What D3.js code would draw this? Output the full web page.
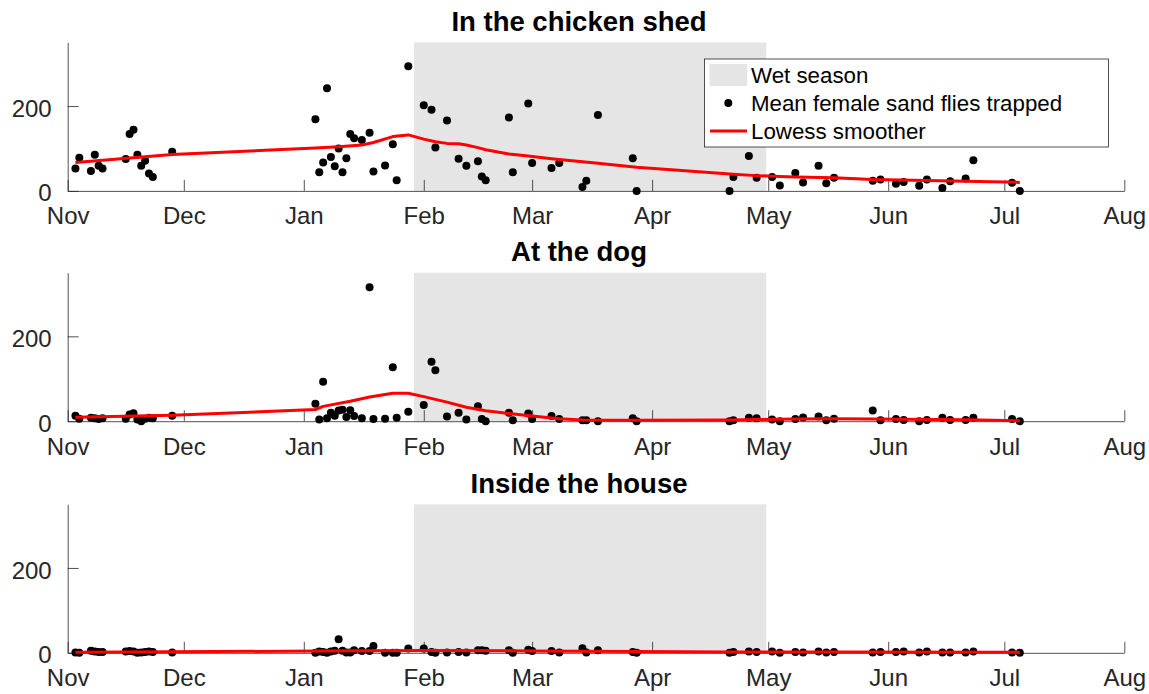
<!DOCTYPE html>
<html>
<head>
<meta charset="utf-8">
<script src="https://cdn.jsdelivr.net/npm/d3@7"></script>
<style>
  body { margin: 0; background: #fff; }
  text { font-family: "Liberation Sans", Arial, Helvetica, sans-serif; }
</style>
</head>
<body>
<div class="chart"></div>
<script>
// sampling dates (shared by the three trap positions)
var sampleDates = [
  "2018-11-03","2018-11-04","2018-11-07","2018-11-08","2018-11-09","2018-11-10",
  "2018-11-16","2018-11-17","2018-11-18","2018-11-19","2018-11-20","2018-11-21",
  "2018-11-22","2018-11-23","2018-11-28",
  "2019-01-04","2019-01-05","2019-01-06","2019-01-07","2019-01-08","2019-01-09",
  "2019-01-10","2019-01-11","2019-01-12","2019-01-13","2019-01-14","2019-01-16",
  "2019-01-18","2019-01-19","2019-01-22","2019-01-24","2019-01-25","2019-01-28",
  "2019-02-01","2019-02-03","2019-02-04","2019-02-07","2019-02-10","2019-02-12",
  "2019-02-15","2019-02-16","2019-02-17","2019-02-23","2019-02-24","2019-02-28",
  "2019-03-01","2019-03-06","2019-03-08","2019-03-14","2019-03-15","2019-03-18",
  "2019-03-27","2019-03-28",
  "2019-04-21","2019-04-22","2019-04-26","2019-04-28",
  "2019-05-02","2019-05-04","2019-05-08","2019-05-10","2019-05-14","2019-05-16",
  "2019-05-18","2019-05-28","2019-05-30",
  "2019-06-03","2019-06-05","2019-06-09","2019-06-11","2019-06-15","2019-06-17",
  "2019-06-21","2019-06-23",
  "2019-07-03","2019-07-05"
];

// mean female sand flies trapped
var shedValues = [
  53, 78, 47, 85, 59, 53, 75, 134, 144, 85, 59, 71, 41, 33, 92,
  169, 44, 67, 242, 80, 58, 100, 44, 77, 134, 124, 120, 137, 46, 60, 110, 25, 294,
  202, 191, 102, 166, 76, 59, 70, 34, 25, 173, 44, 206,
  66, 54, 66, 9, 24, 179, 77, 0,
  0, 33, 82, 31,
  33, 13, 42, 20, 59, 18, 31, 24, 27,
  17, 21, 12, 27, 7, 23, 29, 72,
  19, 0
];
var dogValues = [
  13, 6, 8, 7, 5, 7, 6, 16, 19, 4, 0, 6, 8, 7, 13,
  41, 4, 93, 7, 20, 13, 25, 27, 10, 26, 12, 7, 316, 5, 6, 127, 8, 22,
  38, 140, 120, 11, 20, 4, 35, 5, 0, 20, 2, 18,
  5, 12, 5, 2, 2, 0, 7, 0,
  0, 2, 8, 7,
  4, 0, 5, 9, 11, 2, 6, 25, 2,
  5, 3, 0, 3, 8, 3, 3, 8,
  5, 0
];
var houseValues = [
  1, 0, 5, 3, 2, 2, 3, 4, 3, 0, 1, 2, 3, 2, 1,
  0, 3, 2, 0, 3, 5, 32, 5, 1, 1, 6, 4, 4, 16, 0, 0, 0, 10,
  10, 2, 0, 1, 2, 1, 6, 6, 5, 6, 0, 7,
  4, 4, 1, 11, 1, 6, 2, 0,
  0, 2, 3, 2,
  3, 0, 2, 1, 3, 1, 2, 1, 2,
  2, 3, 1, 3, 1, 1, 1, 3,
  1, 0
];

// lowess smoother
var shedLowessDates = [
  "2018-11-03","2018-11-28","2019-01-04","2019-01-10","2019-01-16","2019-01-19",
  "2019-01-24","2019-01-28","2019-02-01","2019-02-04","2019-02-07","2019-02-10",
  "2019-02-12","2019-02-15","2019-02-17","2019-02-23","2019-02-28","2019-03-06",
  "2019-03-08","2019-03-18","2019-03-28","2019-04-22","2019-04-28","2019-05-04",
  "2019-05-08","2019-05-18","2019-05-28","2019-06-11","2019-06-21","2019-07-05"
];
var shedLowess = [
  67, 86, 101, 104, 108, 114, 128, 132, 122, 116, 112, 111,
  108, 102, 97, 87, 82, 76, 74, 65, 56, 39, 36, 34,
  33, 31, 27, 24.5, 23, 20
];
var dogLowessDates = [
  "2018-11-03","2018-11-28","2019-01-04","2019-01-06","2019-01-13","2019-01-18",
  "2019-01-24","2019-01-28","2019-02-01","2019-02-07","2019-02-12","2019-02-17",
  "2019-02-23","2019-03-01","2019-03-08","2019-03-14","2019-03-28","2019-04-21",
  "2019-04-28","2019-05-08","2019-05-18","2019-05-28","2019-06-21","2019-07-05"
];
var dogLowess = [
  9.5, 14, 27.6, 35, 47, 57, 66, 66, 58, 45, 33, 24.5,
  18, 12, 5.6, 3, 2.5, 3, 4, 5, 6, 5, 3.5, 1
];
var houseLowessDates = [
  "2018-11-03","2018-11-28","2019-01-04","2019-02-01","2019-03-01","2019-03-28",
  "2019-04-22","2019-05-18","2019-07-05"
];
var houseLowess = [1.5, 2.5, 4, 5.5, 4.5, 3, 2, 2, 1];

var titles = ["In the chicken shed", "At the dog", "Inside the house"];
var wetSeason = ["2019-01-30", "2019-05-01"];
var xDomain = ["2018-11-01", "2019-08-01"];
var yTicks = [0, 200];
var legendLabels = ["Wet season", "Mean female sand flies trapped", "Lowess smoother"];

var svgWidth = 1149;
var svgHeight = 694;

var axLeft = 67.7;
var axRight = 1124.3;
var axHeight = 148.5;
var panelBottoms = [190.9, 421.2, 652.8];

var parse = d3.timeParse("%Y-%m-%d");
var axisColor = "#262626";

var svg = d3.select(".chart")
  .append("svg")
  .attr("width", svgWidth)
  .attr("height", svgHeight);

var xScale = d3.scaleTime()
  .domain(xDomain.map(parse))
  .range([axLeft, axRight]);

var panels = [
  { values: shedValues, lowDates: shedLowessDates, low: shedLowess },
  { values: dogValues, lowDates: dogLowessDates, low: dogLowess },
  { values: houseValues, lowDates: houseLowessDates, low: houseLowess }
];

var dates = sampleDates.map(parse);

panels.forEach(function(p, i) {
  var bottom = panelBottoms[i];
  var top = bottom - axHeight;
  var yScale = d3.scaleLinear()
    .domain([0, 350])
    .range([bottom, top]);

  var g = svg.append("g");

  // wet season patch
  g.append("rect")
    .attr("x", xScale(parse(wetSeason[0])) - 2)
    .attr("y", yScale(350))
    .attr("width", xScale(parse(wetSeason[1])) - xScale(parse(wetSeason[0])))
    .attr("height", yScale(0) - yScale(350))
    .attr("fill", "#e5e5e5");

  // axes (ticks point inward)
  var bottomAxis = d3.axisBottom(xScale)
    .ticks(d3.timeMonth.every(1))
    .tickFormat(d3.timeFormat("%b"))
    .tickSizeInner(-11)
    .tickSizeOuter(0)
    .tickPadding(16.5);

  var leftAxis = d3.axisLeft(yScale)
    .tickValues(yTicks)
    .tickSizeInner(-11)
    .tickSizeOuter(0)
    .tickPadding(16);

  var xg = g.append("g")
    .attr("transform", `translate(0, ${yScale(0)})`)
    .call(bottomAxis);

  var yg = g.append("g")
    .attr("transform", `translate(${axLeft}, 0)`)
    .call(leftAxis);

  [xg, yg].forEach(function(a) {
    a.selectAll("path, line").attr("stroke", axisColor).attr("stroke-width", 0.8);
    a.selectAll("text")
      .attr("fill", axisColor)
      .style("font-size", "24px")
      .style("font-family", "'Liberation Sans', Arial, sans-serif");
  });
  yg.selectAll("text").attr("dy", "0.42em");

  // points
  g.selectAll("circle.pt")
    .data(p.values)
    .enter()
    .append("circle")
    .attr("class", "pt")
    .attr("cx", (d, j) => xScale(dates[j]))
    .attr("cy", d => yScale(d))
    .attr("r", 4)
    .attr("fill", "#000");

  // lowess line
  var lowPts = p.low.map((v, j) => [parse(p.lowDates[j]), v]);
  var line = d3.line()
    .x(d => xScale(d[0]))
    .y(d => yScale(d[1]));

  g.append("path")
    .datum(lowPts)
    .attr("d", line)
    .attr("fill", "none")
    .attr("stroke", "#ff0000")
    .attr("stroke-width", 3)
    .attr("stroke-linejoin", "round");

  // title
  g.append("text")
    .attr("x", 579)
    .attr("y", top - 11.5)
    .attr("text-anchor", "middle")
    .style("font-size", "27.5px")
    .style("font-weight", "bold")
    .attr("fill", "#000")
    .text(titles[i]);
});

// legend on the first panel
var legend = svg.append("g");

legend.append("rect")
  .attr("x", 704.5)
  .attr("y", 59)
  .attr("width", 404)
  .attr("height", 88)
  .attr("fill", "#fff")
  .attr("stroke", axisColor)
  .attr("stroke-width", 0.8);

var rowY = [75, 103, 131];

legend.append("rect")
  .attr("x", 709.5)
  .attr("y", 64)
  .attr("width", 37.5)
  .attr("height", 22)
  .attr("fill", "#e5e5e5");

legend.append("circle")
  .attr("cx", 728.3)
  .attr("cy", rowY[1])
  .attr("r", 4)
  .attr("fill", "#000");

legend.append("line")
  .attr("x1", 710)
  .attr("x2", 747)
  .attr("y1", rowY[2])
  .attr("y2", rowY[2])
  .attr("stroke", "#ff0000")
  .attr("stroke-width", 3);

legend.selectAll("text.lbl")
  .data(legendLabels)
  .enter()
  .append("text")
  .attr("class", "lbl")
  .attr("x", 751)
  .attr("y", (d, i) => rowY[i])
  .attr("dy", "0.36em")
  .style("font-size", "22.3px")
  .attr("fill", "#000")
  .text(d => d);
</script>
</body>
</html>
